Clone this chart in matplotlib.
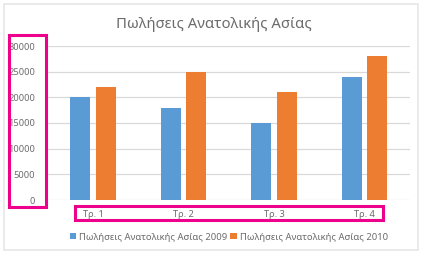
import matplotlib
matplotlib.use("Agg")
import matplotlib.pyplot as plt
from matplotlib.patches import Rectangle
import numpy as np

categories = ["Τρ. 1", "Τρ. 2", "Τρ. 3", "Τρ. 4"]
sales_2009 = [20000, 18000, 15000, 24000]
sales_2010 = [22000, 25000, 21000, 28000]
series_names = ["Πωλήσεις Ανατολικής Ασίας 2009", "Πωλήσεις Ανατολικής Ασίας 2010"]
title = "Πωλήσεις Ανατολικής Ασίας"
yticks = [0, 5000, 10000, 15000, 20000, 25000, 30000]

W, H = 425, 256
plt.rcParams['font.family'] = ['Noto Sans', 'DejaVu Sans']
fig = plt.figure(figsize=(W / 100, H / 100), dpi=100)
fig.patch.set_facecolor('white')

def fx(x):
    return x / W

def fy(y):
    return 1 - y / H

ax = fig.add_axes([fx(47.75), fy(200), (409.75 - 47.75) / W, (200 - 46) / H])
x = np.arange(len(categories))
bw = 0.221
off = 0.1435
b1 = ax.bar(x - off, sales_2009, bw, color='#5B9BD5', zorder=3)
b2 = ax.bar(x + off, sales_2010, bw, color='#ED7D31', zorder=3)
ax.set_xlim(-0.5, len(categories) - 0.5)
ax.set_ylim(0, 30000)
ax.set_yticks(yticks)
ax.set_yticklabels([str(v) for v in yticks])
ax.set_xticks(x)
ax.set_xticklabels(categories)
ax.grid(axis='y', color='#D9D9D9', linewidth=0.9, zorder=0)
ax.set_axisbelow(True)
for s in ax.spines.values():
    s.set_visible(False)
ax.tick_params(axis='both', length=0, labelsize=6.7, labelcolor='#6B6B6B')
ax.tick_params(axis='y', pad=9)
ax.tick_params(axis='x', pad=7)

fig.text(fx(214), fy(25), title, ha='center', va='center', fontsize=10.7, color='#6B6B6B')

leg = fig.legend([b1, b2], series_names, loc='center', bbox_to_anchor=(fx(229), fy(237)),
                 ncol=2, frameon=False, fontsize=6.8, labelcolor='#6B6B6B',
                 handlelength=0.65, handleheight=0.65, handletextpad=0.35,
                 columnspacing=0.3, borderpad=0, borderaxespad=0)

# outer chart border
fig.add_artist(Rectangle((fx(3.5), fy(249.5)), (418 - 3.5) / W, (249.5 - 3.5) / H,
                         transform=fig.transFigure, fill=False, ec='#E6E6E6', lw=1.2))
# magenta highlight boxes
mag = '#EC008C'
fig.add_artist(Rectangle((fx(8.5), fy(207)), (45.5 - 8.5) / W, (207 - 35) / H,
                         transform=fig.transFigure, fill=False, ec=mag, lw=2.2))
fig.add_artist(Rectangle((fx(75), fy(220)), (383 - 75) / W, (220 - 206) / H,
                         transform=fig.transFigure, fill=False, ec=mag, lw=2.2))

fig.savefig("out.png", dpi=100)
